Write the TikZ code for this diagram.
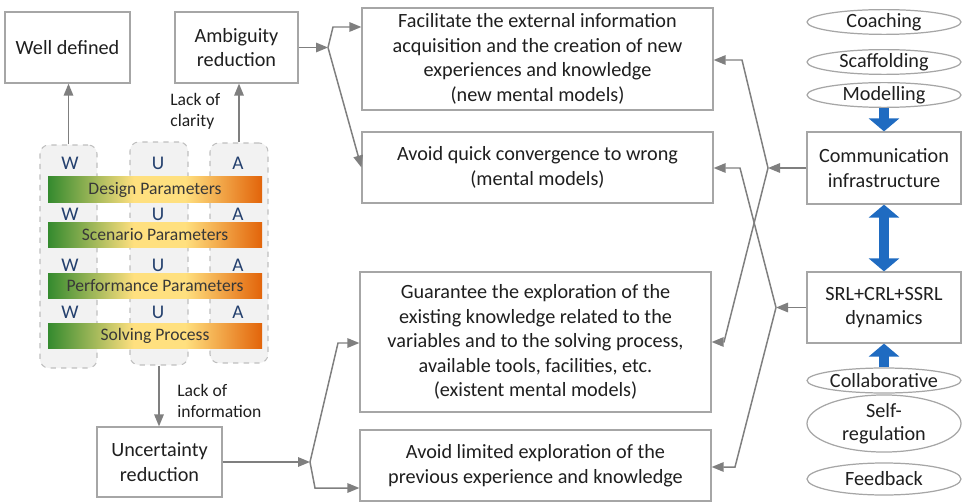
\documentclass[tikz,border=0pt]{standalone}
\usepackage{fontspec}
\setmainfont{Carlito}
\usepackage{xcolor}
\usepackage{tikz}
\usetikzlibrary{arrows.meta,shapes.geometric}
\definecolor{BoxLine}{HTML}{A6A6A6}
\definecolor{LineGray}{HTML}{7F7F7F}
\definecolor{TextDark}{HTML}{1F1F1F}
\definecolor{ColFill}{HTML}{F2F2F2}
\definecolor{ColLine}{HTML}{BFBFBF}
\definecolor{ArrowBlue}{HTML}{1F6BC1}
\definecolor{LetterBlue}{HTML}{24406E}
\definecolor{BarText}{HTML}{383838}
\definecolor{BarGreen}{HTML}{348A2E}
\definecolor{BarYellow}{HTML}{FFE07F}
\definecolor{BarOrange}{HTML}{E2640A}
\pgfdeclarehorizontalshading{ParamShade}{100bp}{color(0bp)=(BarGreen); color(25bp)=(BarGreen); color(45bp)=(BarYellow); color(57bp)=(BarYellow); color(75bp)=(BarOrange); color(100bp)=(BarOrange)}

\begin{document}
\begin{tikzpicture}[x=1cm,y=1cm,
  box/.style={draw=BoxLine,line width=0.7pt,fill=white,text=TextDark,align=center,inner sep=0pt,font=\fontsize{11.5}{14}\selectfont},
  oval/.style={ellipse,draw=BoxLine,line width=0.7pt,fill=white,text=TextDark,align=center,inner sep=0pt,minimum width=3.08cm,font=\fontsize{11.5}{13}\selectfont},
  column/.style={draw=ColLine,dashed,line width=0.6pt,fill=ColFill,rounded corners=5pt,inner sep=0pt},
  parambar/.style={shade,shading=ParamShade,minimum width=4.28cm,minimum height=0.50cm,inner sep=0pt,text=BarText,font=\fontsize{10}{12}\selectfont},
  letter/.style={text=LetterBlue,inner sep=0pt,font=\fontsize{11}{12}\selectfont},
  tag/.style={anchor=west,align=left,inner sep=0pt,text=TextDark,font=\fontsize{10}{12}\selectfont},
  link/.style={draw=LineGray,line width=0.85pt,-{Triangle[length=0.24cm,width=0.19cm]}},
  bluearrow/.style={draw=ArrowBlue,line width=0.2cm,-{Triangle[length=0.26cm,width=0.6cm]}}]
\path[use as bounding box] (0,0) rectangle (19.26,10.04);
\node[column,minimum width=1.14cm,minimum height=4.46cm] (colW) at (1.37,4.91) {};
\node[column,minimum width=1.16cm,minimum height=4.46cm] (colU) at (3.18,4.97) {};
\node[column,minimum width=1.16cm,minimum height=4.40cm] (colA) at (4.78,4.98) {};
\node[parambar] (design) at (3.10,6.25) {Design Parameters};
\node[parambar] (scen) at (3.10,5.35) {Scenario Parameters};
\node[parambar] (perf) at (3.10,4.33) {Performance Parameters};
\node[parambar] (solv) at (3.10,3.32) {Solving Process};
\foreach \y in {6.78,5.76,4.74,3.80} {
  \node[letter] at (1.40,\y) {W};
  \node[letter] at (3.16,\y) {U};
  \node[letter] at (4.76,\y) {A};
}
\node[box,minimum width=2.50cm,minimum height=1.42cm] (well) at (1.35,9.09) {Well defined};
\node[box,minimum width=2.46cm,minimum height=1.42cm] (ambig) at (4.73,9.09) {Ambiguity\\reduction};
\node[box,minimum width=2.50cm,minimum height=1.40cm] (uncert) at (3.19,0.80) {Uncertainty\\reduction};
\node[box,minimum width=7.02cm,minimum height=2.04cm] (facil) at (10.75,8.86) {Facilitate the external information\\acquisition and the creation of new\\experiences and knowledge\\(new mental models)};
\node[box,minimum width=7.02cm,minimum height=1.42cm] (avoidq) at (10.75,6.69) {Avoid quick convergence to wrong\\(mental models)};
\node[box,minimum width=7.02cm,minimum height=2.80cm] (guar) at (10.71,3.20) {Guarantee the exploration of the\\existing knowledge related to the\\variables and to the solving process,\\available tools, facilities, etc.\\(existent mental models)};
\node[box,minimum width=7.02cm,minimum height=1.42cm] (avoidl) at (10.71,0.73) {Avoid limited exploration of the\\previous experience and knowledge};
\node[box,minimum width=3.08cm,minimum height=1.44cm] (comm) at (17.68,6.68) {Communication\\infrastructure};
\node[box,minimum width=3.08cm,minimum height=1.42cm] (srl) at (17.68,3.89) {SRL+CRL+SSRL\\dynamics};
\node[oval,minimum height=0.48cm] (coach) at (17.68,9.60) {Coaching};
\node[oval,minimum height=0.48cm] (scaff) at (17.68,8.80) {Scaffolding};
\node[oval,minimum height=0.48cm] (model) at (17.68,8.14) {Modelling};
\node[oval,minimum height=0.50cm] (collab) at (17.68,2.43) {Collaborative};
\node[oval,minimum height=0.94cm] (selfreg) at (17.68,1.57) {Self-\\regulation};
\node[oval,minimum height=0.64cm] (feedb) at (17.68,0.46) {Feedback};
\node[tag] (clarity) at (3.40,7.82) {Lack of\\clarity};
\node[tag] (info) at (3.54,2.02) {Lack of\\information};
\draw[link] (colW.north) -- (colW.north |- well.south);
\draw[link] (colA.north) -- (colA.north |- ambig.south);
\draw[link] (colU.south) -- (colU.south |- uncert.north);
\coordinate (jA) at (6.56,9.09);
\coordinate (jAup) at (6.66,9.50);
\coordinate (jU) at (6.20,0.80);
\coordinate (jUup) at (6.76,3.18);
\coordinate (jUdn) at (6.30,0.28);
\coordinate (jC) at (15.36,6.68);
\coordinate (jCup) at (14.84,8.84);
\coordinate (jCdn) at (14.48,3.20);
\coordinate (jS) at (15.52,3.89);
\coordinate (jSup) at (14.80,6.68);
\coordinate (jSdn) at (14.70,0.70);
\draw[link] (ambig.east) -- (jA);
\draw[link] (jA) -- (jAup) -- (facil.west |- jAup);
\draw[link] (jA) -- (avoidq.west);
\draw[link] (uncert.east) -- (jU);
\draw[link] (jU) -- (jUup) -- (guar.west |- jUup);
\draw[link] (jU) -- (jUdn) -- (avoidl.west |- jUdn);
\draw[link] (comm.west) -- (jC);
\draw[link] (jC) -- (jCup) -- (facil.east |- jCup);
\draw[link] (jC) -- (jCdn) -- (guar.east |- jCdn);
\draw[link] (srl.west) -- (jS);
\draw[link] (jS) -- (jSup) -- (avoidq.east |- jSup);
\draw[link] (jS) -- (jSdn) -- (avoidl.east |- jSdn);
\draw[bluearrow] (model.south) -- (comm.north);
\draw[bluearrow,{Triangle[length=0.26cm,width=0.6cm]}-{Triangle[length=0.26cm,width=0.6cm]}] (comm.south) -- (srl.north);
\draw[bluearrow] (collab.north) -- (srl.south);
\end{tikzpicture}
\end{document}
